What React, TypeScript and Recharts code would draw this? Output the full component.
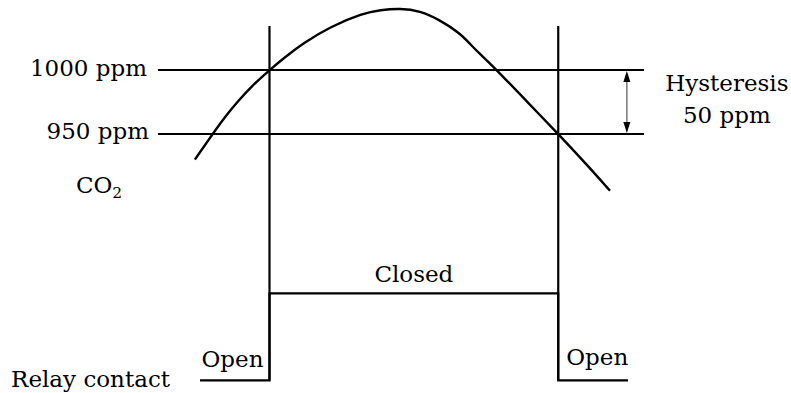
import React from "react";
import { ComposedChart, Line, XAxis, YAxis, ReferenceLine, ReferenceDot } from "recharts";

// CO2 concentration (ppm) against time (min)
const co2Readings = [
  { t: 1.29, ppm: 930 },
  { t: 1.88, ppm: 949 },
  { t: 2.34, ppm: 963.5 },
  { t: 2.81, ppm: 976 },
  { t: 3.28, ppm: 987.5 },
  { t: 3.9, ppm: 1000 },
  { t: 4.44, ppm: 1010 },
  { t: 5.08, ppm: 1021 },
  { t: 6.02, ppm: 1033.8 },
  { t: 7.17, ppm: 1044.3 },
  { t: 7.77, ppm: 1046.9 },
  { t: 8.47, ppm: 1048.2 },
  { t: 9.16, ppm: 1046.3 },
  { t: 9.86, ppm: 1039.1 },
  { t: 10.56, ppm: 1028.7 },
  { t: 10.91, ppm: 1020.5 },
  { t: 11.26, ppm: 1012.5 },
  { t: 11.85, ppm: 1000 },
  { t: 12.9, ppm: 975.5 },
  { t: 14.0, ppm: 950 },
  { t: 15.0, ppm: 926 },
  { t: 15.81, ppm: 905.7 },
];

// relay contact, 0 = open, 1 = closed (drawn as stepAfter)
const relayStates = [
  { t: 1.47, state: 0 },
  { t: 3.9, state: 1 },
  { t: 14.0, state: 0 },
  { t: 16.44, state: 0 },
];

const ON_LEVEL = 1000;
const OFF_LEVEL = 950;
const T_ON = relayStates[1].t;
const T_OFF = relayStates[2].t;
const T_ARROW = 16.4;
const MARKER_TOP = 4.07; // relay-axis units, where the switch markers start

const FONT = "DejaVu Serif";
const SIZE = 23;

const txt =
  (value: React.ReactNode, dx: number, dy: number, anchor: "start" | "middle" | "end" = "start") =>
  (props: any) => {
    const vb = props.viewBox ?? props;
    return (
      <text x={vb.x + dx} y={vb.y + dy} textAnchor={anchor} fontFamily={FONT} fontSize={SIZE} fill="#000">
        {value}
      </text>
    );
  };

const HysteresisArrow = (p: any) => {
  const x = p.x1;
  const top = Math.min(p.y1, p.y2);
  const bot = Math.max(p.y1, p.y2);
  return (
    <g>
      <line x1={x} y1={top + 10} x2={x} y2={bot - 10} stroke="#777" strokeWidth={1.5} />
      <polygon points={`${x},${top + 1} ${x - 3.5},${top + 12} ${x + 3.5},${top + 12}`} fill="#000" />
      <polygon points={`${x},${bot - 1} ${x - 3.5},${bot - 12} ${x + 3.5},${bot - 12}`} fill="#000" />
      <text x={x + 100} y={top + 21} textAnchor="middle" fontFamily={FONT} fontSize={SIZE} fill="#000">
        Hysteresis
      </text>
      <text x={x + 100} y={top + 53} textAnchor="middle" fontFamily={FONT} fontSize={SIZE} fill="#000">
        {`${ON_LEVEL - OFF_LEVEL} ppm`}
      </text>
    </g>
  );
};

export default function App() {
  return (
    <div style={{ position: "absolute", left: 0, top: 0 }}>
      <ComposedChart width={791} height={393} margin={{ top: 6, right: 147, bottom: 3, left: 158 }}>
        <XAxis type="number" dataKey="t" domain={[0, 17]} hide />
        <YAxis yAxisId="co2" type="number" domain={[750, 1050]} hide />
        <YAxis yAxisId="relay" type="number" domain={[-0.11, 4.3]} hide />

        <ReferenceLine yAxisId="co2" y={ON_LEVEL} stroke="#000" strokeWidth={2.2} label={txt("1000 ppm", -11, 5.7, "end")} />
        <ReferenceLine yAxisId="co2" y={OFF_LEVEL} stroke="#000" strokeWidth={2.2} label={txt("950 ppm", -9, 5.3, "end")} />
        <ReferenceLine yAxisId="relay" segment={[{ x: T_ON, y: 0 }, { x: T_ON, y: MARKER_TOP }]} stroke="#000" strokeWidth={2.2} />
        <ReferenceLine yAxisId="relay" segment={[{ x: T_OFF, y: 0 }, { x: T_OFF, y: MARKER_TOP }]} stroke="#000" strokeWidth={2.2} />
        <ReferenceLine yAxisId="co2" segment={[{ x: T_ARROW, y: ON_LEVEL }, { x: T_ARROW, y: OFF_LEVEL }]} shape={HysteresisArrow} />

        <Line
          yAxisId="co2"
          data={co2Readings}
          dataKey="ppm"
          type="basis"
          stroke="#000"
          strokeWidth={2.4}
          dot={false}
          isAnimationActive={false}
        />
        <Line
          yAxisId="relay"
          data={relayStates}
          dataKey="state"
          type="stepAfter"
          stroke="#000"
          strokeWidth={2.2}
          dot={false}
          isAnimationActive={false}
        />

        <ReferenceDot
          yAxisId="co2"
          x={co2Readings[0].t}
          y={co2Readings[0].ppm}
          r={0}
          fill="none"
          stroke="none"
          label={txt(
            <>
              <tspan>CO</tspan>
              <tspan dy={5} fontSize={15.5}>2</tspan>
            </>,
            -119,
            33
          )}
        />
        <ReferenceDot yAxisId="relay" x={(T_ON + T_OFF) / 2} y={1} r={0} fill="none" stroke="none" label={txt("Closed", 0, -11.3, "middle")} />
        <ReferenceDot yAxisId="relay" x={T_ON} y={0} r={0} fill="none" stroke="none" label={txt("Open", -6, -13.5, "end")} />
        <ReferenceDot yAxisId="relay" x={T_OFF} y={0} r={0} fill="none" stroke="none" label={txt("Open", 8, -15.5, "start")} />
        <ReferenceDot yAxisId="relay" x={relayStates[0].t} y={0} r={0} fill="none" stroke="none" label={txt("Relay contact", -30, 6.6, "end")} />
      </ComposedChart>
    </div>
  );
}
